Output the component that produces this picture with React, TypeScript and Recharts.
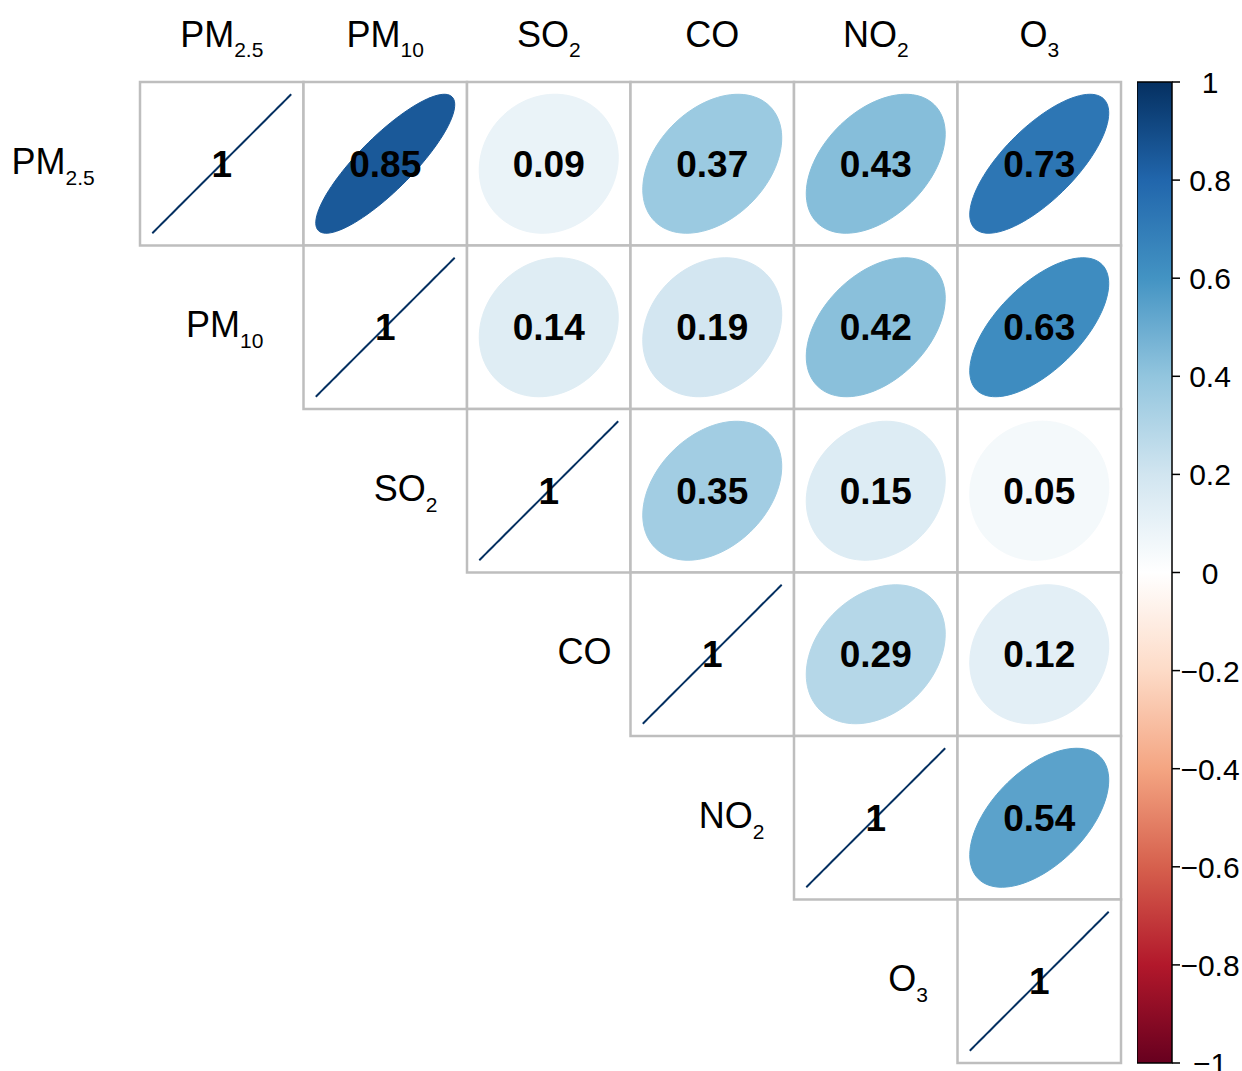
import { ScatterChart, Scatter, XAxis, YAxis, BarChart, Bar } from 'recharts'

// variable names, split into base text and subscript
const NAMES = ['PM', 'PM', 'SO', 'CO', 'NO', 'O']
const SUBS = ['2.5', '10', '2', '', '2', '3']

// upper triangle of the correlation matrix, row by row starting at the diagonal
const CORR = [
  [1, 0.85, 0.09, 0.37, 0.43, 0.73],
  [1, 0.14, 0.19, 0.42, 0.63],
  [1, 0.35, 0.15, 0.05],
  [1, 0.29, 0.12],
  [1, 0.54],
  [1],
]

const SCALE_TICKS = [-1, -0.8, -0.6, -0.4, -0.2, 0, 0.2, 0.4, 0.6, 0.8, 1]

// RdBu, from -1 to 1
const PAL = ['#67001F', '#B2182B', '#D6604D', '#F4A582', '#FDDBC7', '#FFFFFF', '#D1E5F0', '#92C5DE', '#4393C3', '#2166AC', '#053061']

const W = 1242
const H = 1071
const M = { top: 82, right: 121, bottom: 8, left: 140 }
const HEAD_H = 60
const CELL = (W - M.left - M.right) / 6
const FONT = 'Arial, "Liberation Sans", Helvetica, sans-serif'
const GRID = '#BEBEBE'
const SUB_SIZE = 21

const cells = CORR.flatMap((row, i) => row.map((r, k) => ({ x: i + k + 0.5, y: i + 0.5, r })))
const rowLabels = NAMES.map((_, i) => ({ x: i, y: i + 0.5, i }))
const cbData = [{ name: 'scale', range: [-1, 1] }]

function hex(c: string) {
  return [1, 3, 5].map(p => parseInt(c.slice(p, p + 2), 16))
}

function colorFor(r: number) {
  const t = ((r + 1) / 2) * (PAL.length - 1)
  const i = Math.min(Math.floor(t), PAL.length - 2)
  const f = t - i
  const a = hex(PAL[i]), b = hex(PAL[i + 1])
  const c = a.map((v, j) => Math.round(v + (b[j] - v) * f))
  return `rgb(${c[0]},${c[1]},${c[2]})`
}

function ellipse(cx: number, cy: number, r: number) {
  const d = Math.acos(Math.min(1, r)) / 2
  const s = 0.85 * CELL
  const pts: string[] = []
  for (let n = 0; n < 99; n++) {
    const k = (2 * Math.PI * n) / 98
    pts.push(`${(cx + (Math.cos(k + d) / 2) * s).toFixed(2)},${(cy - (Math.cos(k - d) / 2) * s).toFixed(2)}`)
  }
  return 'M' + pts.join('L') + 'Z'
}

// rough width of a subscript string (Arial metrics)
const subWidth = (s: string) => s.split('').reduce((w, ch) => w + (ch === '.' ? 0.278 : 0.556), 0) * SUB_SIZE

const fmt = (r: number) => (r === 1 ? '1' : r.toFixed(2))

function CellShape(props: any) {
  const { cx, cy, payload } = props
  const r = payload.r
  const col = colorFor(r)
  return (
    <g>
      <rect x={cx - CELL / 2} y={cy - CELL / 2} width={CELL} height={CELL} fill="#fff" stroke={GRID} strokeWidth={2.5} />
      <path d={ellipse(cx, cy, r)} fill={col} stroke={col} strokeWidth={r === 1 ? 2 : 1} />
      <text x={cx} y={cy + 13} textAnchor="middle" fontFamily={FONT} fontWeight="bold" fontSize={37} fill="#000">
        {fmt(r)}
      </text>
    </g>
  )
}

function RowLabel(props: any) {
  const { cx, cy, payload } = props
  const i = payload.i
  const gap = 19 + subWidth(SUBS[i]) * 0.9
  return (
    <text x={cx - gap} y={cy + 10} textAnchor="end" fontFamily={FONT} fontSize={36} fill="#000">
      <tspan>{NAMES[i]}</tspan>
      {SUBS[i] && <tspan dy={11} fontSize={SUB_SIZE}>{SUBS[i]}</tspan>}
    </text>
  )
}

function HeadTick(props: any) {
  const { x, payload } = props
  const i = Math.floor(payload.value)
  return (
    <text x={x} y={47} textAnchor="middle" fontFamily={FONT} fontSize={36} fill="#000">
      <tspan>{NAMES[i]}</tspan>
      {SUBS[i] && <tspan dy={10} fontSize={SUB_SIZE}>{SUBS[i]}</tspan>}
    </text>
  )
}

function ScaleTick(props: any) {
  const { x, y, payload } = props
  const v = payload.value
  const s = v === 0 ? '0' : String(v).replace('-', '\u2212')
  return (
    <text x={x + 28} y={y + 11} textAnchor="middle" fontFamily={FONT} fontSize={30} fill="#000">
      {s}
    </text>
  )
}

export default function App() {
  return (
    <div style={{ position: 'absolute', left: 0, top: 0, width: W, height: H, background: '#fff' }}>
      <div style={{ position: 'absolute', left: 0, top: 0 }}>
        <ScatterChart width={W} height={H} margin={{ top: M.top - HEAD_H, right: M.right, bottom: M.bottom, left: M.left }}>
          <XAxis type="number" dataKey="x" orientation="top" height={HEAD_H} domain={[0, 6]}
            ticks={[0.5, 1.5, 2.5, 3.5, 4.5, 5.5]} interval={0} axisLine={false} tickLine={false} tick={<HeadTick />} />
          <YAxis type="number" dataKey="y" domain={[0, 6]} reversed hide />
          <Scatter data={cells} shape={<CellShape />} isAnimationActive={false} />
          <Scatter data={rowLabels} shape={<RowLabel />} isAnimationActive={false} />
        </ScatterChart>
      </div>
      <div style={{ position: 'absolute', left: 1137, top: 0 }}>
        <BarChart width={105} height={H} data={cbData} barCategoryGap={0}
          margin={{ top: M.top, right: 0, bottom: M.bottom, left: 0 }}>
          <defs>
            <linearGradient id="cbGrad" x1="0" y1="0" x2="0" y2="1">
              {PAL.slice().reverse().map((c, i) => (
                <stop key={i} offset={i / (PAL.length - 1)} stopColor={c} />
              ))}
            </linearGradient>
          </defs>
          <XAxis type="category" dataKey="name" hide />
          <YAxis type="number" orientation="right" width={70} domain={[-1, 1]} ticks={SCALE_TICKS} interval={0}
            axisLine={false} tickSize={8} tickLine={{ stroke: '#000', strokeWidth: 1.5 }} tick={<ScaleTick />} />
          <Bar dataKey="range" fill="url(#cbGrad)" stroke="#000" strokeWidth={1.5} isAnimationActive={false} />
        </BarChart>
      </div>
    </div>
  )
}
